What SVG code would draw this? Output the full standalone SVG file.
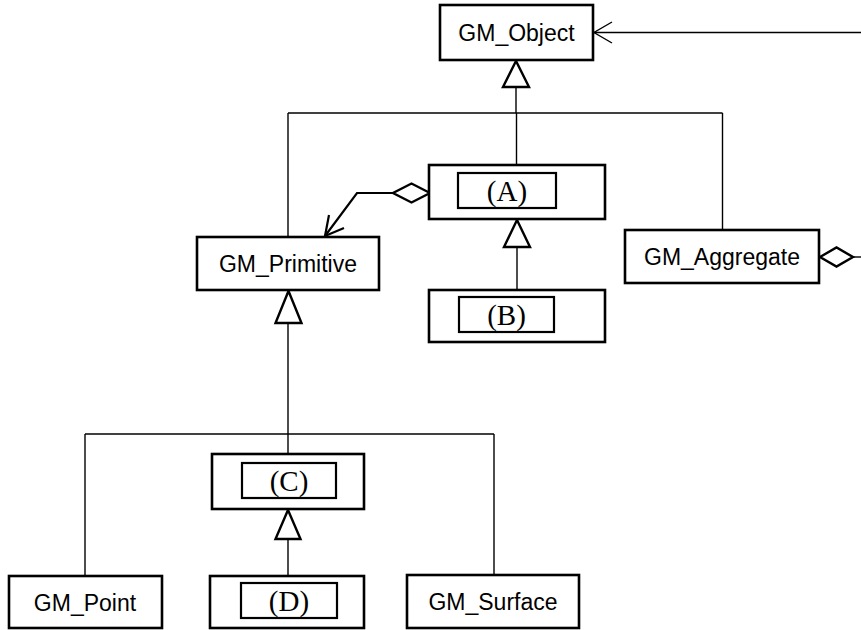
<svg xmlns="http://www.w3.org/2000/svg" width="861" height="630" viewBox="0 0 861 630">
<style>
.box{fill:#fff;stroke:#000;stroke-width:2.6}
.inner{fill:#fff;stroke:#000;stroke-width:2.2}
.lbl{font-family:"Liberation Sans","Noto Sans CJK JP",sans-serif;font-size:23px;fill:#000;text-anchor:middle}
.ser{font-family:"Liberation Serif","Noto Serif",serif;font-size:29px;fill:#000;text-anchor:middle}
.ln{fill:none;stroke:#000;stroke-width:1.4}
.tri{fill:#fff;stroke:#000;stroke-width:2.4;stroke-linejoin:miter}
.hd{fill:none;stroke:#000;stroke-width:2.2}
</style>
<rect width="861" height="630" fill="#fff"/>
<g id="connectors">
  <line class="ln" x1="593" y1="32.5" x2="861" y2="32.5"/>
  <polyline class="ln" points="612,22 594,32.5 612,43"/>
  <line class="ln" x1="516" y1="87" x2="516" y2="113"/>
  <line class="ln" x1="288" y1="113" x2="722.5" y2="113"/>
  <line class="ln" x1="288" y1="113" x2="288" y2="237"/>
  <line class="ln" x1="516.5" y1="113" x2="516.5" y2="165"/>
  <line class="ln" x1="722.5" y1="113" x2="722.5" y2="230"/>
  <polygon class="tri" points="516,61 503,87 529,87"/>
  <line class="ln" x1="517" y1="247" x2="517" y2="290"/>
  <polygon class="tri" points="517,220 504,247 530,247"/>
  <polyline class="hd" points="393,193 357,193 325,236"/>
  <polyline class="hd" points="329,215 325,236 344,228"/>
  <polygon class="tri" points="430,193 411.5,183.5 393,193 411.5,202.5"/>
  <line class="ln" x1="853" y1="257" x2="861" y2="257"/>
  <polygon class="tri" points="820,257 836.5,247.5 853,257 836.5,266.5"/>
  <line class="ln" x1="288" y1="323" x2="288" y2="454"/>
  <polygon class="tri" points="288.5,291 275.5,323 301.5,323"/>
  <line class="ln" x1="85" y1="434" x2="494" y2="434"/>
  <line class="ln" x1="85" y1="434" x2="85" y2="576"/>
  <line class="ln" x1="494" y1="434" x2="494" y2="575"/>
  <line class="ln" x1="288" y1="539" x2="288" y2="576"/>
  <polygon class="tri" points="288,510 275.5,539 300.5,539"/>
</g>
<g id="GM_Object">
  <rect class="box" x="440" y="5" width="153" height="55"/>
  <text class="lbl" x="516.5" y="41">GM_Object</text>
</g>
<g id="A">
  <rect class="box" x="429" y="165" width="176" height="54"/>
  <rect class="inner" x="458" y="173" width="98" height="35"/>
  <text class="ser" x="507" y="201">(A)</text>
</g>
<g id="B">
  <rect class="box" x="429" y="290" width="176" height="52"/>
  <rect class="inner" x="459" y="297" width="95" height="35"/>
  <text class="ser" x="506.5" y="325">(B)</text>
</g>
<g id="GM_Primitive">
  <rect class="box" x="197" y="237" width="182" height="53"/>
  <text class="lbl" x="288" y="272">GM_Primitive</text>
</g>
<g id="GM_Aggregate">
  <rect class="box" x="625" y="230" width="194" height="53"/>
  <text class="lbl" x="722" y="265">GM_Aggregate</text>
</g>
<g id="C">
  <rect class="box" x="212" y="454" width="152" height="55"/>
  <rect class="inner" x="242" y="463" width="94" height="35"/>
  <text class="ser" x="289" y="491">(C)</text>
</g>
<g id="GM_Point">
  <rect class="box" x="9" y="576" width="153" height="52"/>
  <text class="lbl" x="85" y="611">GM_Point</text>
</g>
<g id="D">
  <rect class="box" x="210" y="576" width="154" height="52"/>
  <rect class="inner" x="241" y="583" width="96" height="35"/>
  <text class="ser" x="289" y="611">(D)</text>
</g>
<g id="GM_Surface">
  <rect class="box" x="407" y="575" width="172" height="53"/>
  <text class="lbl" x="493" y="610">GM_Surface</text>
</g>
</svg>
